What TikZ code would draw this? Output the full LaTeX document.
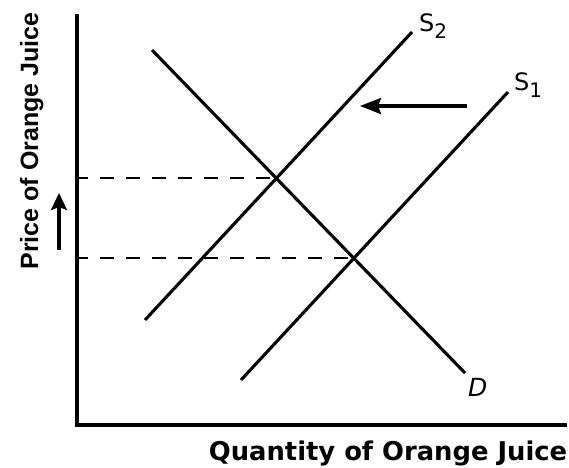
\documentclass[tikz,border=0pt]{standalone}
\usepackage{fontspec}
\setmainfont{DejaVu Sans}
\newfontfamily\ylabfont{Liberation Sans}
\usetikzlibrary{arrows.meta}
\tikzset{
  axisline/.style={line width=4.5pt},
  curveline/.style={line width=3.1pt},
  guideline/.style={line width=2.9pt, dash pattern=on 14pt off 12pt, dash phase=3pt},
  curvelabel/.style={inner sep=0pt, font=\fontsize{24}{26}\selectfont},
}
\newcommand{\subnum}[1]{\raisebox{-7pt}{\fontsize{20}{21}\selectfont #1}}
\begin{document}
\begin{tikzpicture}[x=1pt,y=-1pt]
\useasboundingbox (0,0) rectangle (569,467);
% axes
\coordinate (top) at (77,14);
\coordinate (origin) at (77,425);
\coordinate (right) at (567,425);
\draw[axisline] (top) -- (origin) -- (right);
% curves
\coordinate (d1) at (152,50);
\coordinate (d2) at (465,373);
\coordinate (sa1) at (145,320);
\coordinate (sa2) at (412,32);
\coordinate (sb1) at (241,380);
\coordinate (sb2) at (508,92);
\draw[curveline] (d1) -- (d2);
\draw[curveline] (sa1) -- (sa2);
\draw[curveline] (sb1) -- (sb2);
% equilibrium guides
\coordinate (p2) at (77,178);
\coordinate (e2) at (276,178);
\coordinate (p1) at (77,258);
\coordinate (e1) at (354,258);
\draw[guideline] (p2) -- (e2);
\draw[guideline] (p1) -- (e1);
% labels
\node[curvelabel, anchor=base west] (ls2) at (419,31) {S\subnum{2}};
\node[curvelabel, anchor=base west] (ls1) at (514,90) {S\subnum{1}};
\node[curvelabel, anchor=base west] (ld) at (468,396) {\fontsize{25}{26}\selectfont\itshape D};
% shift arrow
\coordinate (sh1) at (467,106);
\coordinate (sh2) at (360,106);
\draw[line width=3.1pt, -{Stealth[length=21pt,width=16pt,inset=3pt]}] (sh1) -- (sh2);
% price up arrow
\coordinate (pu1) at (59,250);
\coordinate (pu2) at (59,193);
\draw[line width=3.1pt, -{Stealth[length=17pt,width=16pt,inset=3pt]}] (pu1) -- (pu2);
% axis titles
\node[inner sep=0pt, anchor=base, rotate=90, font=\ylabfont\bfseries\fontsize{25}{26}\selectfont] (ylab) at (38,141) {Price of Orange Juice};
\node[inner sep=0pt, anchor=base, font=\bfseries\fontsize{25.8}{27}\selectfont] (xlab) at (388,460) {Quantity of Orange Juice};
\end{tikzpicture}
\end{document}
